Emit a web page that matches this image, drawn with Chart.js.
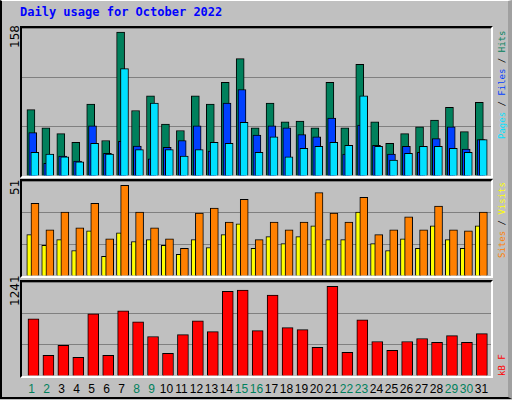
<!DOCTYPE html>
<html><head><meta charset="utf-8">
<script src="https://cdn.jsdelivr.net/npm/chart.js@4"></script>
<style>
body{margin:0;background:#c0c0c0;}
#wrap{position:absolute;left:0;top:0;width:506px;height:396px;background:#c0c0c0;border-left:2px solid #000;border-top:1px solid #fff;border-bottom:2px solid #000;border-right:4px solid #a0a0a0;}
.frame{position:absolute;border-top:2px solid #000;border-left:2px solid #000;border-right:2px solid #fff;border-bottom:2px solid #fff;box-sizing:border-box;}
.frame canvas{position:absolute;left:0;top:0;}
.t{position:absolute;font-family:"DejaVu Sans Mono",monospace;font-size:12px;white-space:nowrap;}
.r{position:absolute;font-family:"DejaVu Sans Mono",monospace;font-size:9px;line-height:9px;white-space:nowrap;transform-origin:0 0;transform:rotate(-90deg);}
.yl{position:absolute;font-family:"DejaVu Sans",sans-serif;font-size:12px;white-space:nowrap;transform-origin:0 0;transform:rotate(-90deg);}
.day{position:absolute;top:381px;width:20px;text-align:center;font-family:"Liberation Sans",Arial,sans-serif;font-size:12px;}
</style></head><body>
<div id="wrap">
<div class="t" style="left:18px;top:4px;color:#0000ff;font-weight:bold;">Daily usage for October 2022</div>
</div>
<script>
const days=[1,2,3,4,5,6,7,8,9,10,11,12,13,14,15,16,17,18,19,20,21,22,23,24,25,26,27,28,29,30,31];
const weekend=[1,2,8,9,15,16,22,23,29,30];
const hits=[73,53,46.5,37,79,39,158,72,88,57,50,88,79,103,129,53,80,59.4,60.4,53,103,53,122.6,59.4,36,46.5,54,61.5,75.5,48.7,81];
const files=[47.6,14,22,16.5,55,25,38,33,19,31.5,39,55,27.5,80,95,45,55,53,45.5,43,63.7,24,56,33.7,24,32.6,26,41,54,29.5,40];
const pages=[26,24,21,15.5,36,24,118,29,80,29,22,29,37,36,59,26,43,21,30.5,32.6,37,33.7,88,32.6,17.6,25,32.6,32.6,30.5,26,40];
const visits=[39,24.8,34.3,25.9,39,20,48.7,34.3,25.9,20,14.8,33.8,36.4,29,41.2,19.5,29,24.8,29,44.8,33.8,29,42.2,22.2,24.8,31.7,24.8,37.5,24.8,24.3,34.3];
const sites=[22.2,16.4,19.5,13.7,24.3,10.6,23.2,18.5,19.5,16.4,11.6,19.5,15.3,22.2,28,14.8,21.1,17.4,21.1,26.9,19.5,19.5,34.3,17.4,13.7,20,14.8,26.9,19.5,14.8,26.9];
const kbytes=[755,273,404,247,820,273,859,716,521,299,547,729,586,1119,1133,599,1067,638,612,378,1185,312,742,456,338,456,495,443,534,443,560];
const yTicks=["158","51","1241"];

const wrap=document.getElementById('wrap');
function panel(top,h,max,sets){
  const f=document.createElement('div');f.className='frame';
  f.style.left='18px';f.style.top=top+'px';f.style.width='473px';f.style.height=h+'px';
  const c=document.createElement('canvas');
  c.width=469;c.height=h-4;c.style.left='0';c.style.top='0';
  f.appendChild(c);wrap.appendChild(f);
  new Chart(c,{type:'bar',data:{datasets:sets.map(s=>({data:s.data.map((v,i)=>({x:days[i]+s.off,y:v})),backgroundColor:s.color,borderColor:'#000',borderWidth:1,barThickness:s.w,grouped:false,order:s.order,borderSkipped:'bottom'}))},
    options:{responsive:false,animation:false,events:[],layout:{padding:0},
      plugins:{legend:{display:false},tooltip:{enabled:false}},
      scales:{x:{type:'linear',offset:false,min:0.233,max:31.61,display:false},
        y:{min:0,max:max,ticks:{display:false,stepSize:max/3},grid:{color:'#808080',lineWidth:1,drawTicks:false},border:{display:false}}}}});
}
panel(25,152,162.6,[{data:hits,color:'#00805c',off:-0.17,w:8,order:3},{data:files,color:'#0040ff',off:-0.05,w:8,order:2},{data:pages,color:'#00e0ff',off:0.09,w:8,order:1}]);
panel(178,99,51,[{data:sites,color:'#ffff00',off:-0.28,w:5,order:2},{data:visits,color:'#ff8000',off:0.1,w:8,order:1}]);
panel(279,98,1241,[{data:kbytes,color:'#ff0000',off:0,w:11,order:1}]);

function lab(html,x,y){const d=document.createElement('div');d.className='yl';d.style.left=x+'px';d.style.top=y+'px';d.innerHTML=html;wrap.appendChild(d);}
lab(yTicks[0],6,47);lab(yTicks[1],6,194);lab(yTicks[2],6,305);
function rlab(html,x,y){const d=document.createElement('div');d.className='r';d.style.left=x+'px';d.style.top=y+'px';d.innerHTML=html;wrap.appendChild(d);}
rlab('<span style="color:#00e0ff">Pages</span> / <span style="color:#0040ff">Files</span> / <span style="color:#00805c">Hits</span>',496,138);
rlab('<span style="color:#ff8000">Sites</span> / <span style="color:#ffff00">Visits</span>',496,257);
rlab('<span style="color:#ff0000">kB F</span>',496,375);
days.forEach(d=>{const e=document.createElement('div');e.className='day';e.textContent=d;
  e.style.left=(29.5+15*(d-1)-10)+'px';e.style.color=weekend.includes(d)?'#00805c':'#000';wrap.appendChild(e);});
</script></body></html>
